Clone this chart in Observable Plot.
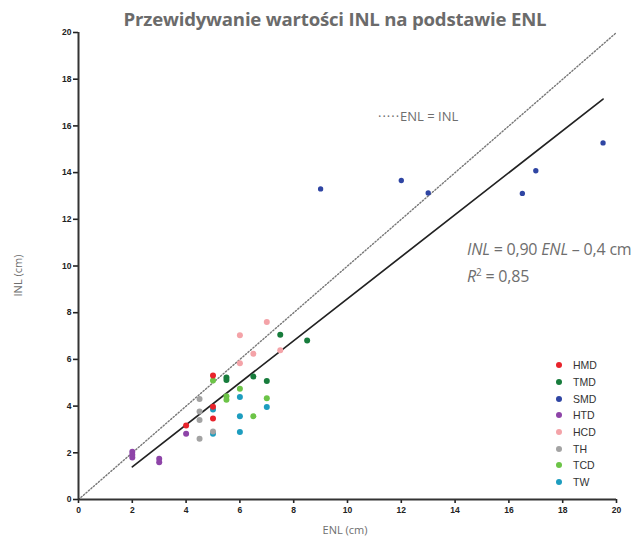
<!DOCTYPE html>
<html><head><meta charset="utf-8">
<script src="https://cdn.jsdelivr.net/npm/d3@7"></script>
<script src="https://cdn.jsdelivr.net/npm/@observablehq/plot@0.6"></script>
<style>
body{margin:0;background:#fff;}
#wrap{position:relative;width:643px;height:539px;font-family:"Open Sans",sans-serif;}
#title{position:absolute;left:0;width:670px;top:6px;text-align:center;font-weight:bold;font-size:18.6px;color:#6b6b6b;letter-spacing:-0.2px;}
#eq{position:absolute;left:467px;top:238px;font-size:16px;color:#6e6e6e;line-height:23px;letter-spacing:-0.2px;white-space:nowrap;}
#ident{position:absolute;left:378px;top:107px;font-size:13px;color:#6e6e6e;}
#legend{position:absolute;left:556px;top:357px;font-family:"Liberation Sans",Arial,sans-serif;font-size:10.5px;color:#333;}
#legend div{height:16.7px;display:flex;align-items:center;}
#legend span.sw{display:inline-block;width:6px;height:6px;border-radius:50%;margin-right:11px;}
#xl{position:absolute;left:0;width:690px;top:522px;text-align:center;font-size:11px;color:#6e6e6e;}
#yl{position:absolute;left:-15px;top:268px;width:64px;text-align:center;transform:rotate(-90deg);font-size:11px;color:#6e6e6e;}
svg{position:absolute;left:0;top:0;}
</style></head>
<body><div id="wrap">
<div id="chart"></div>
<div id="title"></div>
<div id="ident"><span style="letter-spacing:1px">·····</span>ENL = INL</div>
<div id="eq"><i>INL</i> = 0,90 <i>ENL</i> – 0,4 cm<br><i>R</i><sup style="font-size:10px">2</sup> = 0,85</div>
<div id="legend"></div>
<div id="xl">ENL (cm)</div>
<div id="yl">INL (cm)</div>
</div>
<script>
const title = "Przewidywanie wartości INL na podstawie ENL";
const groups = ["HMD","TMD","SMD","HTD","HCD","TH","TCD","TW"];
const colors = ["#e8232b","#177c3c","#2f45a3","#8e44a8","#f4a3a8","#a3a3a3","#6cc447","#1d9dbf"];
const drawOrder = ["TW","TCD","TH","HCD","HTD","SMD","TMD","HMD"];

const HMD_enl = [4,5,5,5];
const HMD_inl = [3.17,5.31,3.97,3.47];
const TMD_enl = [5.5,5.5,6.5,7,7.5,8.5];
const TMD_inl = [5.22,5.12,5.27,5.07,7.06,6.81];
const SMD_enl = [9,12,13,16.5,17,19.5];
const SMD_inl = [13.3,13.66,13.13,13.11,14.08,15.27];
const HTD_enl = [2,2,2,3,3,4];
const HTD_inl = [2.05,1.92,1.8,1.74,1.6,2.82];
const HCD_enl = [6,6,6.5,7,7.5];
const HCD_inl = [7.03,5.84,6.24,7.6,6.39];
const TH_enl = [4.5,4.5,4.5,4.5,5];
const TH_inl = [4.3,3.77,3.41,2.6,2.91];
const TCD_enl = [5,5.5,5.5,6,6.5,7];
const TCD_inl = [5.1,4.42,4.27,4.74,3.57,4.34];
const TW_enl = [5,5,6,6,6,7];
const TW_inl = [3.85,2.82,4.39,3.56,2.89,3.96];

const slope = 0.90, intercept = -0.4;
const fitRange = [2, 19.5];
const identRange = [0, 20];
const xTicks = [0,2,4,6,8,10,12,14,16,18,20];
const yTicks = [0,2,4,6,8,10,12,14,16,18,20];

const series = {HMD:[HMD_enl,HMD_inl],TMD:[TMD_enl,TMD_inl],SMD:[SMD_enl,SMD_inl],HTD:[HTD_enl,HTD_inl],
  HCD:[HCD_enl,HCD_inl],TH:[TH_enl,TH_inl],TCD:[TCD_enl,TCD_inl],TW:[TW_enl,TW_inl]};
const pts = [];
for (const g of drawOrder) {
  const [xs, ys] = series[g];
  xs.forEach((x,i)=>pts.push({g, x, y: ys[i]}));
}
const fit = fitRange.map(x=>({x, y: slope*x+intercept}));
const ident = identRange.map(x=>({x, y:x}));

const plot = Plot.plot({
  width: 643, height: 539,
  marginLeft: 78, marginRight: 27, marginTop: 32, marginBottom: 40,
  x: {domain:[0,20]}, y: {domain:[0,20]},
  color: {domain: groups, range: colors},
  style: {fontFamily:"Liberation Sans, Arial, sans-serif"},
  marks: [
    Plot.line(ident, {x:"x", y:"y", stroke:"#777", strokeWidth:1.4, strokeDasharray:"1.3,2"}),
    Plot.line(fit, {x:"x", y:"y", stroke:"#222", strokeWidth:1.7}),
    Plot.dot(pts, {x:"x", y:"y", fill:"g", r: d => d.g==="SMD" ? 3 : 3.8}),
    Plot.axisX({ticks:xTicks, tickSize:4, tickPadding:3, fontSize:8.5, fontWeight:"bold", label:null, color:"#222", strokeWidth:1.6}),
    Plot.axisY({ticks:yTicks, tickSize:5, tickPadding:2, fontSize:8.5, fontWeight:"bold", label:null, color:"#222", strokeWidth:1.6}),
    Plot.ruleY([0], {stroke:"#333", strokeWidth:2}),
    Plot.ruleX([0], {stroke:"#333", strokeWidth:2})
  ]
});
document.getElementById("chart").appendChild(plot);
document.getElementById("title").textContent = title;
const lg = document.getElementById("legend");
groups.forEach((g,i)=>{
  const d = document.createElement("div");
  d.innerHTML = `<span class="sw" style="background:${colors[i]}"></span>${g}`;
  lg.appendChild(d);
});
</script>
</body></html>
